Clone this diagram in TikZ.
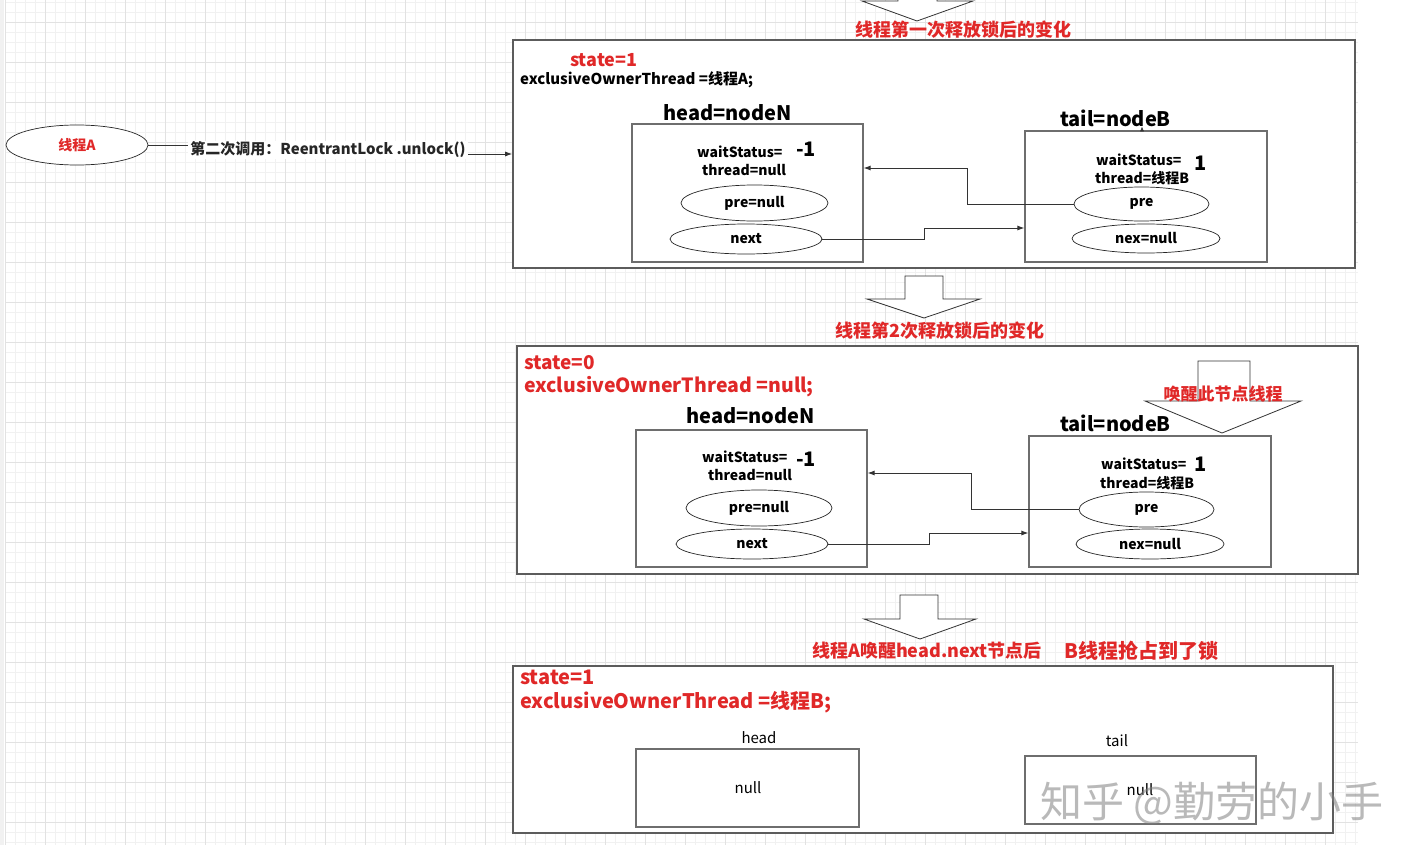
\documentclass[tikz,border=0pt]{standalone}
\usepackage{fontspec}
\setmainfont{Noto Sans CJK SC}
\usetikzlibrary{shapes.geometric,arrows.meta,calc}
\definecolor{rd}{HTML}{E02828}
\definecolor{bord}{HTML}{5C5C5C}
\definecolor{ibord}{HTML}{6E6E6E}
\definecolor{gmin}{HTML}{F1F1F1}
\definecolor{gmaj}{HTML}{E2E2E2}
\tikzset{
  txt/.style={inner sep=0pt, font=\fontsize{#1}{#1}\selectfont\bfseries},
  rtxt/.style={txt=#1, text=rd},
  ntxt/.style={inner sep=0pt, font=\fontsize{#1}{#1}\selectfont},
  outer/.style={draw=bord, line width=1.6pt, fill=white, rectangle, inner sep=0pt},
  inbox/.style={draw=ibord, line width=1.2pt, fill=white, rectangle, inner sep=0pt},
  ell/.style={draw=black!85, line width=0.7pt, ellipse, inner sep=0pt, fill=white,
    font=\fontsize{14}{14}\selectfont\bfseries},
  conn/.style={draw=black!80, line width=0.9pt, -{Latex[length=7pt,width=5pt]}},
  barrow/.style={draw=black!80, line width=0.8pt, fill=white},
}
\begin{document}
\begin{tikzpicture}[x=1pt,y=-1pt]
\useasboundingbox (0,0) rectangle (1423,864);
\fill[white] (0,0) rectangle (1423,864);
% grid background
\fill[gmin] (0,0) rectangle (4,845);
\foreach \x in {5,15,...,1355} \draw[gmin, line width=0.6pt] (\x,0) -- (\x,845);
\foreach \y in {2,12,...,842} \draw[gmin, line width=0.6pt] (5,\y) -- (1358,\y);
\foreach \x in {5,45,...,1325} \draw[gmaj, line width=0.7pt] (\x,0) -- (\x,845);
\foreach \y in {22,62,...,822} \draw[gmaj, line width=0.7pt] (5,\y) -- (1358,\y);

% top block arrow (cut off)
\draw[barrow] (898,-10) -- (898,1) -- (862,1) -- (917,21) -- (973,1) -- (937,1) -- (937,-10);
\node[rtxt=18] (T1) at (963,30) {线程第一次释放锁后的变化};

% thread A
\node[ellipse, draw=black!85, line width=0.7pt, fill=white, minimum width=142pt, minimum height=40pt, inner sep=0pt] (A) at (77,145) {};
\node[rtxt=14] (Alab) at (77,145) {线程A};

% ===== Box 1 =====
\node[outer, minimum width=842pt, minimum height=228pt] (b1) at (934,154) {};
\draw[conn] (A.east) -- ++(182,0) |- (b1.west);
\node[txt=15, fill=white, inner xsep=2pt, inner ysep=1pt, text=black!85] (call) at (328,150) {第二次调用：ReentrantLock .unlock()};

\node[rtxt=18, anchor=west] (s1) at (570,60) {state=1};
\node[txt=15, anchor=west] (e1) at (520,80) {exclusiveOwnerThread =线程A;};
\node[txt=20, anchor=west] (hl1) at (663,113) {head=nodeN};
\node[txt=20, anchor=west] (tl1) at (1060,118) {tail=nodeB};

\node[inbox, minimum width=231pt, minimum height=138pt] (h1) at (747.5,193) {};
\node[txt=14, anchor=west] (ws1) at (697,152) {waitStatus=};
\node[txt=20, anchor=west] (m1) at (796,149) {-1};
\node[txt=14, anchor=west] (th1) at (702,170) {thread=null};
\node[ell, minimum width=147pt, minimum height=36pt] (pn1) at (754.5,203) {pre=null};
\node[ell, minimum width=152pt, minimum height=30pt] (n1) at (746,239) {next};

\node[inbox, minimum width=242pt, minimum height=131pt] (t1) at (1146,196.5) {};
\draw[draw=black!80, line width=0.6pt, -{Latex[length=5pt,width=4pt]}] ([xshift=-4pt]t1.north) -- ++(0,-4);
\node[txt=14, anchor=west] (wst1) at (1096,160) {waitStatus=};
\node[txt=20, anchor=west] (o1) at (1194,163) {1};
\node[txt=14, anchor=west] (tht1) at (1095,178) {thread=线程B};
\node[ell, minimum width=135pt, minimum height=34pt] (tp1) at (1141.5,204) {pre};
\node[ell, minimum width=148pt, minimum height=29pt] (tn1) at (1146,238.5) {nex=null};

\draw[conn] (tp1.west) -- ++(-106,0) |- ([yshift=25pt]h1.east);
\draw[conn] (n1.east) -- ++(102,0) |- ([yshift=-31.5pt]t1.west);

% arrow 2
\draw[barrow] (905,276) -- (943,276) -- (943,299) -- (980,299) -- (924,318) -- (867,299) -- (905,299) -- cycle;
\node[rtxt=18] (T2) at (940,331) {线程第2次释放锁后的变化};

% ===== Box 2 =====
\node[outer, minimum width=841pt, minimum height=228pt] (b2) at (937.5,460) {};
\node[rtxt=19, anchor=west] (s2) at (524,363) {state=0};
\node[rtxt=19.5, anchor=west] (e2) at (524,387) {exclusiveOwnerThread =null;};
\node[txt=20, anchor=west] (hl2) at (686,416) {head=nodeN};
\node[txt=20, anchor=west] (tl2) at (1060,423) {tail=nodeB};

\node[inbox, minimum width=231pt, minimum height=137pt] (h2) at (751.5,498.5) {};
\node[txt=14, anchor=west] (ws2) at (702,457) {waitStatus=};
\node[txt=20, anchor=west] (m2) at (796,459) {-1};
\node[txt=14, anchor=west] (th2) at (708,475) {thread=null};
\node[ell, minimum width=146pt, minimum height=36pt] (pn2) at (759,508) {pre=null};
\node[ell, minimum width=152pt, minimum height=30pt] (n2) at (752,544) {next};

\node[inbox, minimum width=242pt, minimum height=131pt] (t2) at (1150,501.5) {};
\node[txt=14, anchor=west] (wst2) at (1101,464) {waitStatus=};
\node[txt=20, anchor=west] (o2) at (1194,464) {1};
\node[txt=14, anchor=west] (tht2) at (1100,483) {thread=线程B};
\node[ell, minimum width=135pt, minimum height=35pt] (tp2) at (1146.5,509.5) {pre};
\node[ell, minimum width=148pt, minimum height=30pt] (tn2) at (1150,544) {nex=null};

\draw[conn] (tp2.west) -- ++(-107,0) |- ([yshift=25.5pt]h2.east);
\draw[conn] (n2.east) -- ++(101,0) |- ([yshift=-31.5pt]t2.west);

% wake arrow
\draw[barrow] (1198,361) -- (1250,361) -- (1250,401) -- (1301,401) -- (1222,433) -- (1145,401) -- (1198,401) -- cycle;
\node[rtxt=17] (wake) at (1223,394) {唤醒此节点线程};

% arrow 3
\draw[barrow] (900,595) -- (938,595) -- (938,619) -- (976,619) -- (920,639) -- (864,619) -- (900,619) -- cycle;
\node[rtxt=18, anchor=west] (T3a) at (812,651) {线程A唤醒head.next节点后};
\node[rtxt=20, anchor=west] (T3b) at (1064,651) {B线程抢占到了锁};

% ===== Box 3 =====
\node[outer, minimum width=820pt, minimum height=167pt] (b3) at (923,749.5) {};
\node[rtxt=20, anchor=west] (s3) at (520,677) {state=1};
\node[rtxt=20, anchor=west] (e3) at (520,702) {exclusiveOwnerThread =线程B;};
\node[ntxt=15] (hd3) at (759,738) {head};
\node[ntxt=15] (tl3) at (1117,741) {tail};
\node[inbox, minimum width=223pt, minimum height=78pt] (h3) at (747.5,788) {};
\node[ntxt=15] (hn3) at (748,788) {null};
\node[inbox, minimum width=231pt, minimum height=68pt] (t3) at (1140.5,790) {};
\node[ntxt=15] (tn3) at (1140,790) {null};

% watermark
\node[ntxt=42, anchor=west, text=gray, opacity=0.55] (wm) at (1040,803) {知乎 @勤劳的小手};
\end{tikzpicture}
\end{document}
